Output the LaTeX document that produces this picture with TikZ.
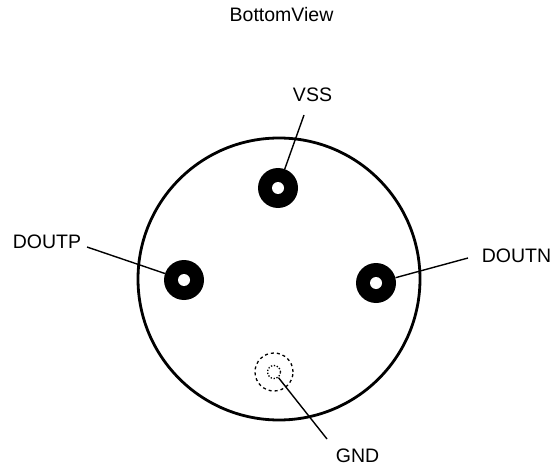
\documentclass[tikz,border=0pt]{standalone}
\usepackage{fontspec}
\setmainfont{Liberation Sans}
\tikzset{
  lbl/.style={inner sep=0pt,font=\fontsize{19.5}{21}\selectfont,text=black},
  pinouter/.style={circle,fill=black,minimum size=40pt,inner sep=0pt},
  pinhole/.style={circle,fill=white,minimum size=12pt,inner sep=0pt},
  wire/.style={line width=1.4pt,black},
  body/.style={circle,draw=black,line width=2.8pt,minimum size=282pt,inner sep=0pt},
  gndouter/.style={circle,draw=black,dash pattern=on 3pt off 3pt,line width=1.3pt,minimum size=38pt,inner sep=0pt},
  gndinner/.style={circle,draw=black,dash pattern=on 1.3pt off 1.7pt,line width=1.3pt,minimum size=13pt,inner sep=0pt}
}
\begin{document}
\begin{tikzpicture}[x=1pt,y=-1pt]
\useasboundingbox (0,0) rectangle (551,465);
\node[lbl] (title) at (281.5,15) {BottomView};
\node[body] (bodyc) at (279,279) {};
\node[pinouter] (vsspin) at (278,188) {};
\node[pinhole] (vsshole) at (278,188) {};
\node[pinouter] (doutppin) at (184,280) {};
\node[pinhole] (doutphole) at (184,280) {};
\node[pinouter] (doutnpin) at (376,283) {};
\node[pinhole] (doutnhole) at (376,283) {};
\node[gndouter] (gndo) at (274,372) {};
\node[gndinner] (gndi) at (274,372) {};
\node[lbl] (vss) at (312.5,95) {VSS};
\node[lbl] (doutp) at (47,242) {DOUTP};
\node[lbl] (doutn) at (516.5,255.5) {DOUTN};
\node[lbl] (gnd) at (357.5,456) {GND};
\coordinate (vssend) at (304,115);
\coordinate (doutpend) at (87,247);
\coordinate (doutnend) at (468,258);
\coordinate (gndend) at (327,439);
\draw[wire] (vssend) -- (vsspin);
\draw[wire] (doutpend) -- (doutppin);
\draw[wire] (doutnend) -- (doutnpin);
\draw[wire] (gndend) -- (gndi);
\end{tikzpicture}
\end{document}
